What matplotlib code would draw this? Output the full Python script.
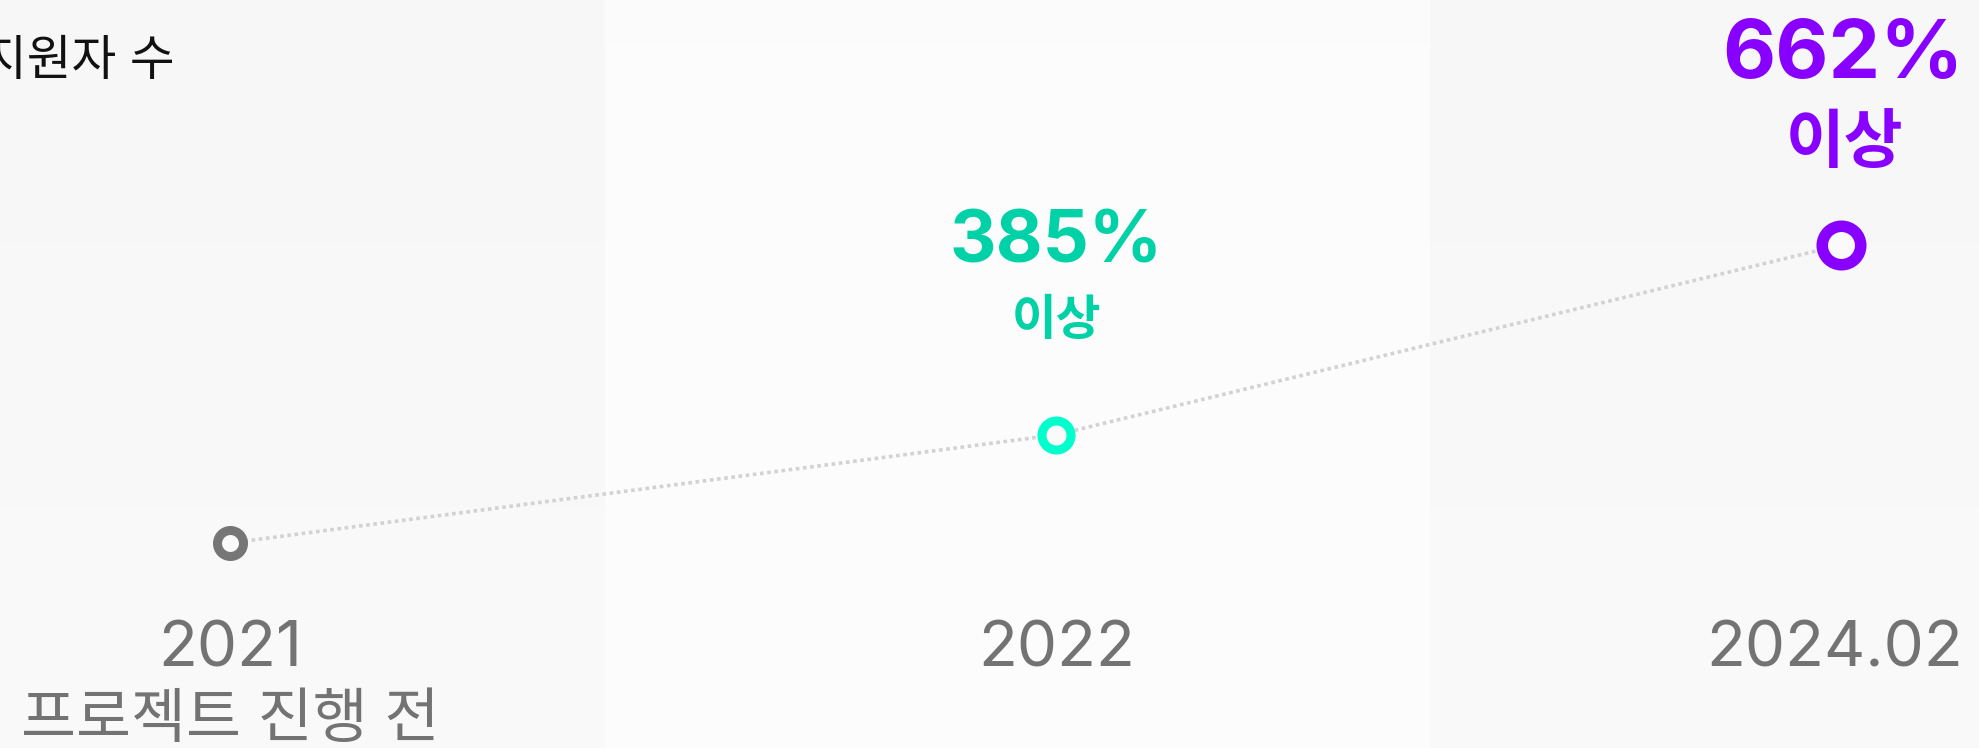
import matplotlib.pyplot as plt
import numpy as np

plt.rcParams['font.family'] = ['Inter', 'Noto Sans CJK KR', 'DejaVu Sans']

# data
periods = ['2021', '2022', '2024.02']
period_notes = ['프로젝트 진행 전', '', '']
x_pos = [0, 1, 1.95]            # spacing as drawn
y_pos = [100, 304, 662]         # schematic height of each point
growth = ['', '385%', '662%']
growth_note = ['', '이상', '이상']
title = '지원자 수'

ring_colors = ['#767676', '#00ffcc', '#8800ff']
text_colors = ['#767676', '#00d1a7', '#8800ff']
ring_ms = [18.7, 20.9, 27.7]
ring_mew = [6.5, 6.5, 8.3]

fig = plt.figure(figsize=(19.79, 7.48), dpi=100)
ax = fig.add_axes([0, 0, 1, 1])
ax.set_xlim(-0.2785, 2.117)
ax.set_ylim(-286.6, 1124)
ax.axis('off')

# background columns, very faint vertical gradient
grad = np.linspace(0, 1, 256)
for (x0, x1), (c_top, c_bot) in zip(
        [(-0.2785, 0.454), (0.454, 1.452), (1.452, 2.117)],
        [(0.969, 0.980), (0.988, 0.992), (0.969, 0.980)]):
    img = np.repeat((c_top + (c_bot - c_top) * grad).reshape(-1, 1, 1), 3, axis=2)
    ax.imshow(img, extent=(x0, x1, -286.6, 1124), aspect='auto',
              origin='upper', zorder=0, interpolation='bilinear')

# dotted connector
ax.plot(x_pos, y_pos, color='#d2d2d2', lw=2.6, linestyle=(0, (1, 1)),
        dash_capstyle='butt', zorder=1)

for i in range(len(periods)):
    ax.plot(x_pos[i], y_pos[i], 'o', ms=ring_ms[i], mew=ring_mew[i],
            mec=ring_colors[i], mfc='#fafafa', zorder=3)

    ax.annotate(periods[i], (x_pos[i], 0.1083), xycoords=ax.get_xaxis_transform(),
                xytext=(-6 if i == 2 else 0, 0), textcoords='offset pixels',
                ha='center', va='baseline', fontsize=46, color='#737373')
    if period_notes[i]:
        ax.text(x_pos[i], 0.0147, period_notes[i], transform=ax.get_xaxis_transform(),
                ha='center', va='baseline', fontsize=43, color='#737373')

    if growth[i]:
        big = 59 if i == 2 else 52
        small = 46 if i == 2 else 35
        off_big = 167 if i == 2 else 172
        off_small = 83 if i == 2 else 100
        ax.annotate(growth[i], (x_pos[i], y_pos[i]), xytext=(2 if i == 2 else 0, off_big),
                    textcoords='offset pixels', ha='center', va='baseline',
                    fontsize=big, fontweight='bold', color=text_colors[i])
        ax.annotate(growth_note[i], (x_pos[i], y_pos[i]), xytext=(3 if i == 2 else 0, off_small),
                    textcoords='offset pixels', ha='center', va='baseline',
                    fontsize=small, fontweight='bold', color=text_colors[i])

ax.text(0.0884, 0.8997, title, transform=ax.transAxes, ha='right',
        va='baseline', fontsize=35, color='#111111')

fig.savefig('out.png', dpi=100)
